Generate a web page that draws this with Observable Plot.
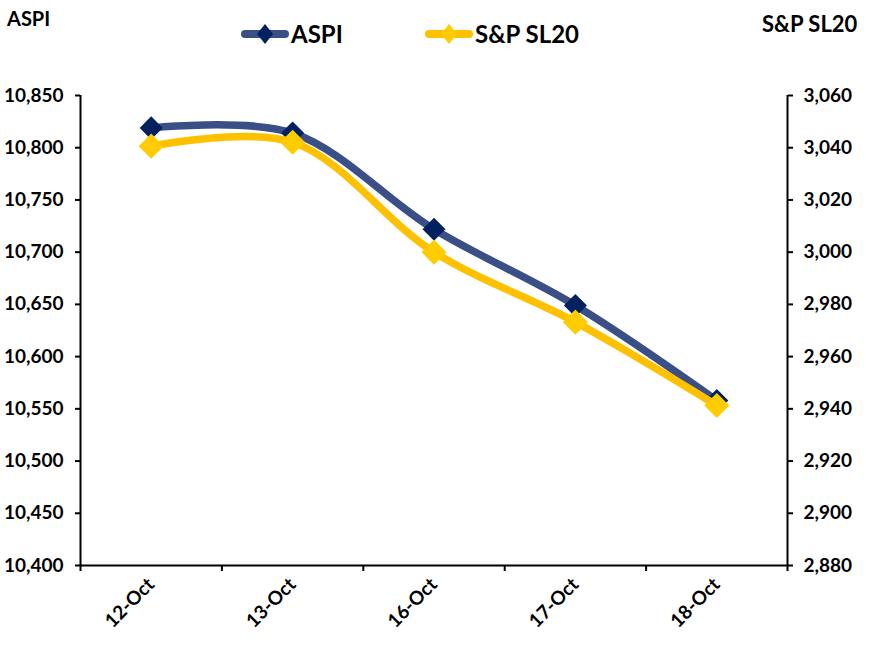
<!DOCTYPE html>
<html><head><meta charset="utf-8">
<script src="https://cdn.jsdelivr.net/npm/d3@7"></script>
<script src="https://cdn.jsdelivr.net/npm/@observablehq/plot@0.6"></script>
<style>
body{margin:0;background:#fff;font-family:Lato,sans-serif;}
#wrap{position:relative;width:883px;height:646px;overflow:hidden;}
.lbl{position:absolute;font-weight:bold;font-size:20px;color:#000;line-height:1;white-space:nowrap;}
.leg{position:absolute;top:21px;display:flex;align-items:center;font-weight:bold;font-size:24px;line-height:1;white-space:nowrap;}
.leg svg{margin-right:2px;}
</style></head>
<body>
<div id="wrap">
  <div class="lbl" style="left:7px;top:8px;">ASPI</div>
  <div class="lbl" style="left:762px;top:13px;font-size:22px;">S&amp;P SL20</div>
  <div class="leg" style="left:241px;"><svg width="48" height="26"><line x1="4" y1="13" x2="44" y2="13" stroke="#3a4f85" stroke-width="8" stroke-linecap="round"/><path d="M24 3 L32 13 L24 23 L16 13Z" fill="#002060"/></svg>ASPI</div>
  <div class="leg" style="left:425px;"><svg width="48" height="26"><line x1="4" y1="13" x2="44" y2="13" stroke="#ffc000" stroke-width="8" stroke-linecap="round"/><path d="M24 3 L32 13 L24 23 L16 13Z" fill="#ffcc00"/></svg>S&amp;P SL20</div>
  <div id="chart" style="position:absolute;left:0;top:0;"></div>
</div>
<script>
const dates = ["12-Oct", "13-Oct", "16-Oct", "17-Oct", "18-Oct"];
const aspi = [10819, 10814, 10722, 10649, 10558];
const sl20 = [3040.6, 3042.1, 3000.0, 2973.2, 2941.3];
const aspiTicks = [10400, 10450, 10500, 10550, 10600, 10650, 10700, 10750, 10800, 10850];
const sl20Ticks = [2880, 2900, 2920, 2940, 2960, 2980, 3000, 3020, 3040, 3060];

const leftDomain = [aspiTicks[0], aspiTicks[aspiTicks.length - 1]];
const rightDomain = [sl20Ticks[0], sl20Ticks[sl20Ticks.length - 1]];
const k = (leftDomain[1] - leftDomain[0]) / (rightDomain[1] - rightDomain[0]);
const toLeft = v => leftDomain[0] + (v - rightDomain[0]) * k;
const toRight = v => rightDomain[0] + (v - leftDomain[0]) / k;

const xDomain = [-0.5, dates.length - 0.5];
const idx = dates.map((d, i) => i);
const bounds = d3.range(dates.length + 1).map(i => i - 0.5);

const aspiData = dates.map((d, i) => ({i, v: aspi[i]}));
const slData = dates.map((d, i) => ({i, v: toLeft(sl20[i])}));
const fmt = d3.format(",");

const chart = Plot.plot({
  width: 883,
  height: 646,
  marginTop: 95,
  marginBottom: 81,
  marginLeft: 80,
  marginRight: 96,
  style: {fontFamily: "Lato, sans-serif", fontSize: "19px", fontWeight: "bold", color: "#000", background: "transparent"},
  x: {domain: xDomain},
  y: {domain: leftDomain},
  marks: [
    Plot.axisY({anchor: "left", ticks: aspiTicks, tickFormat: fmt, tickSize: 5, tickPadding: 12, label: null, strokeWidth: 2}),
    Plot.axisY({anchor: "right", ticks: sl20Ticks.map(toLeft), tickFormat: d => fmt(Math.round(toRight(d))), tickSize: 5, tickPadding: 11, label: null, strokeWidth: 2}),
    Plot.axisX({ticks: bounds, tickFormat: () => "", tickSize: 6, label: null, strokeWidth: 2}),
    Plot.axisX({ticks: idx, tickFormat: i => dates[i], tickSize: 0, tickRotate: -45, tickPadding: 16, label: null}),
    Plot.ruleX(xDomain, {y1: leftDomain[0], y2: leftDomain[1], stroke: "#000", strokeWidth: 2}),
    Plot.ruleY([leftDomain[0]], {stroke: "#000", strokeWidth: 2}),
    Plot.line(aspiData, {x: "i", y: "v", stroke: "#3a4f85", strokeWidth: 7.5, curve: "catmull-rom"}),
    Plot.dot(aspiData, {x: "i", y: "v", symbol: "square", r: 9.2, rotate: 45, fill: "#002060", stroke: "none"}),
    Plot.line(slData, {x: "i", y: "v", stroke: "#ffc000", strokeWidth: 7.5, curve: "catmull-rom"}),
    Plot.dot(slData, {x: "i", y: "v", symbol: "square", r: 10, rotate: 45, fill: "#ffcc00", stroke: "none"})
  ]
});
document.getElementById("chart").appendChild(chart);
</script>
</body></html>
